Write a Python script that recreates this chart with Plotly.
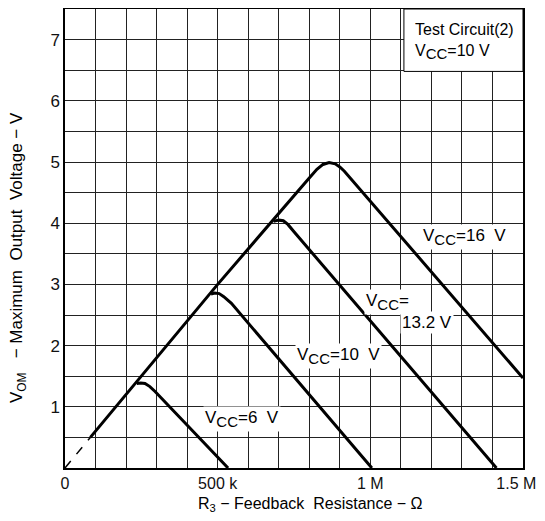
import plotly.graph_objects as go

# x in MΩ, y in V
dash_x = [0.0, 0.083]
dash_y = [0.0, 0.50]

v16_x = [0.083, 0.50, 0.80, 0.825, 0.845, 0.865, 0.885, 0.90, 0.915, 1.50]
v16_y = [0.50, 3.00, 4.74, 4.88, 4.96, 4.99, 4.97, 4.92, 4.85, 1.47]

v13_x = [0.683, 0.70, 0.715, 0.73, 0.75, 1.413]
v13_y = [4.03, 4.05, 4.04, 3.98, 3.86, 0.0]

v10_x = [0.478, 0.49, 0.505, 0.52, 0.545, 1.005]
v10_y = [2.84, 2.86, 2.85, 2.80, 2.69, 0.0]

v6_x = [0.235, 0.248, 0.262, 0.278, 0.295, 0.534]
v6_y = [1.38, 1.39, 1.38, 1.33, 1.25, 0.0]

x_tickvals = [0, 0.5, 1.0, 1.5]
x_ticktext = ["0", "500\u00a0k", "1\u00a0M", "1.5\u00a0M\u00a0\u00a0\u00a0"]
y_tickvals = [1, 2, 3, 4, 5, 6, 7]
y_ticktext = ["1", "2", "3", "4", "5", "6", "7"]

FONT = "Liberation Sans"
fig = go.Figure()
fig.add_trace(go.Scatter(x=dash_x, y=dash_y, mode="lines",
                         line=dict(color="black", width=1.5, dash="dash")))
for xs, ys in [(v16_x, v16_y), (v13_x, v13_y), (v10_x, v10_y), (v6_x, v6_y)]:
    fig.add_trace(go.Scatter(x=xs, y=ys, mode="lines",
                             line=dict(color="black", width=3)))

grid = "#222222"
fig.update_xaxes(range=[0, 1.5], tickvals=x_tickvals, ticktext=x_ticktext,
                 showgrid=True, gridcolor=grid, gridwidth=1,
                 minor=dict(dtick=0.1, tick0=0, showgrid=True, gridcolor=grid, gridwidth=1),
                 showline=True, linecolor="black", linewidth=1.5, mirror=True,
                 zeroline=False, ticks="", ticklabelstandoff=0, ticklabeloverflow="allow",
                 automargin=False,
                 tickfont=dict(size=16, color="#111", family=FONT))
fig.update_yaxes(range=[0, 7.5], tickvals=y_tickvals, ticktext=y_ticktext,
                 showgrid=True, gridcolor=grid, gridwidth=1,
                 minor=dict(dtick=0.5, tick0=0, showgrid=True, gridcolor=grid, gridwidth=1),
                 showline=True, linecolor="black", linewidth=1.5, mirror=True,
                 zeroline=False, ticks="", automargin=False,
                 tickfont=dict(size=17, color="#111", family=FONT))

fig.add_shape(type="rect", x0=1.11, x1=1.5, y0=6.48, y1=7.5, xref="x", yref="y",
              fillcolor="white", line=dict(color="black", width=1), layer="above")

SUB = "<sub><span style='font-size:15px'>CC</span></sub>"
ann_font = dict(size=17, color="black", family=FONT)
fig.add_annotation(x=1.14, y=6.97, xref="x", yref="y", xanchor="left", align="left",
                   text="Test Circuit(2)<br>V" + SUB + "=10 V", showarrow=False,
                   font=dict(size=16, color="black", family=FONT))
labels = [
    (1.31, 3.78, "V" + SUB + "=16\u00a0 V"),
    (1.055, 2.72, "V" + SUB + "="),
    (1.186, 2.37, "13.2\u00a0V"),
    (0.897, 1.83, "V" + SUB + "=10\u00a0 V"),
    (0.58, 0.80, "V" + SUB + "=6\u00a0 V"),
]
for lx, ly, lt in labels:
    fig.add_annotation(x=lx, y=ly, xref="x", yref="y", text=lt, showarrow=False,
                       font=ann_font, bgcolor="white", borderpad=1)

fig.add_annotation(x=-0.1026, y=0.4575, xref="paper", yref="paper", textangle=-90,
                   xanchor="center", yanchor="middle",
                   text="V<sub>OM</sub>\u00a0\u00a0 − Maximum\u00a0 Output\u00a0 Voltage − V", showarrow=False,
                   font=dict(size=17, color="black", family=FONT))
fig.add_annotation(x=0.535, y=-0.08, xref="paper", yref="paper", yanchor="middle",
                   text="R<sub>3</sub> − Feedback\u00a0 Resistance − Ω", showarrow=False,
                   font=dict(size=16, color="black", family=FONT))

fig.update_layout(width=537, height=513, margin=dict(l=57, r=22, t=1, b=53),
                  paper_bgcolor="white", plot_bgcolor="white", showlegend=False)
fig.write_html("out.html")
